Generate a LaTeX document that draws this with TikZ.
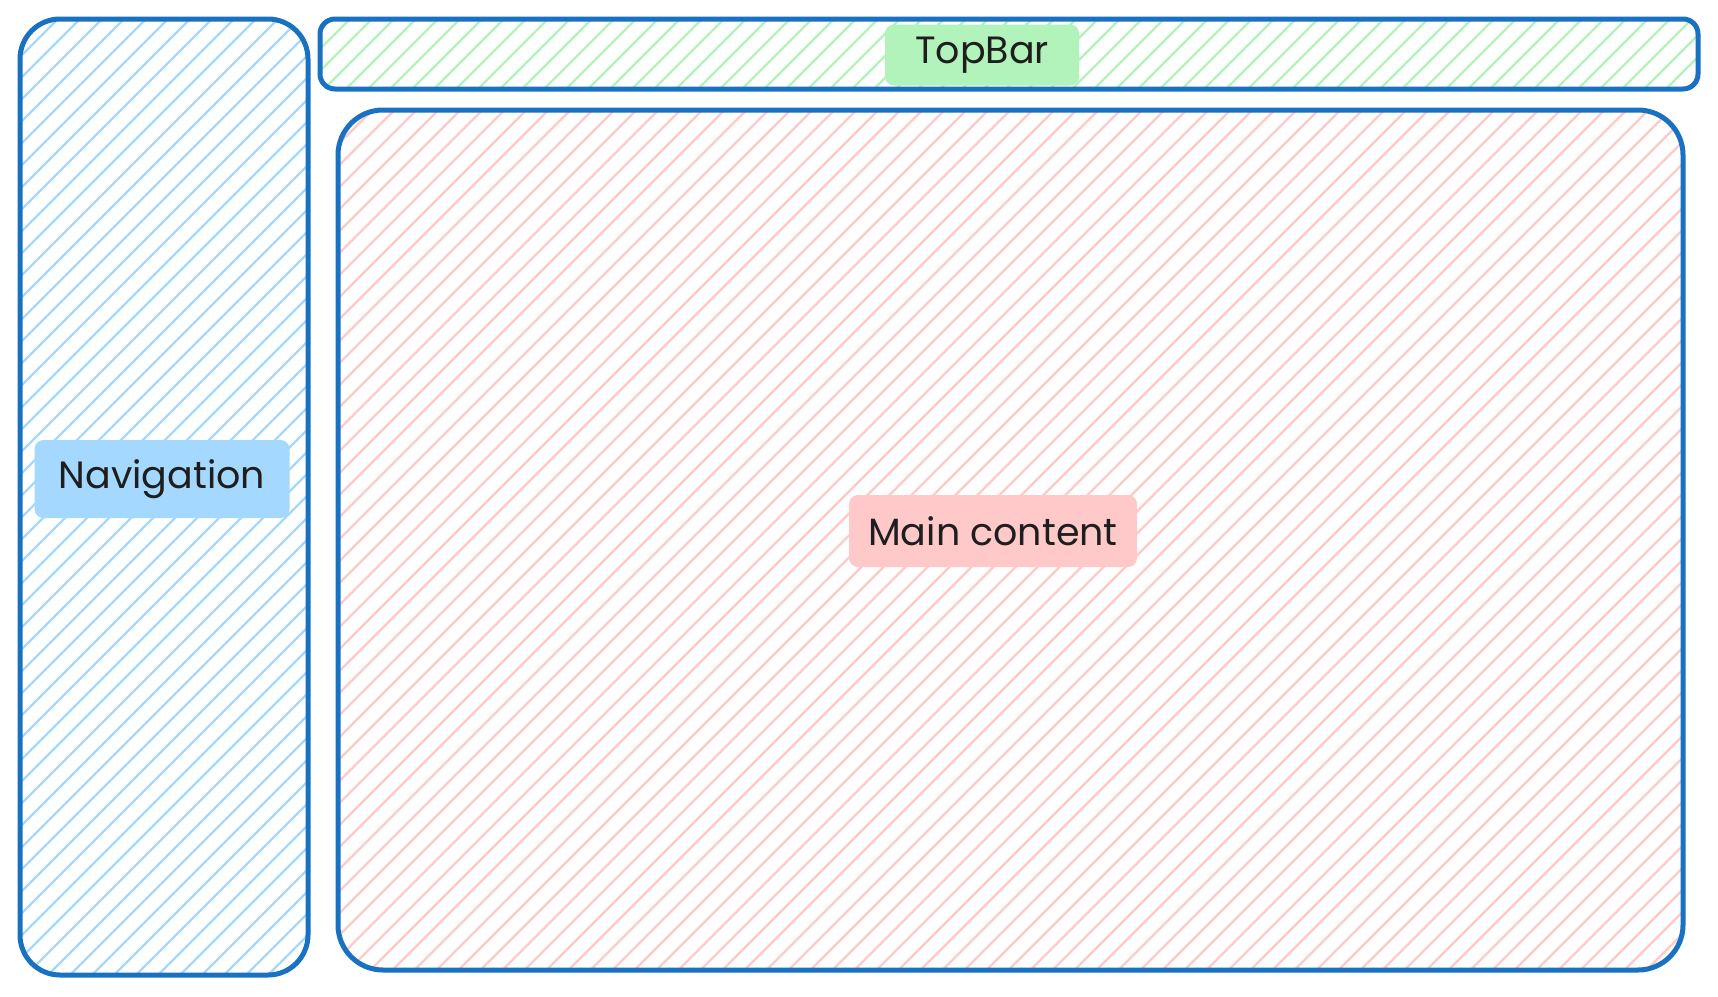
\documentclass[tikz,border=0pt]{standalone}
\usepackage{fontspec}
\setmainfont{Poppins}
\definecolor{strokeblue}{HTML}{1971C2}
\definecolor{navfill}{HTML}{A5D8FF}
\definecolor{topfill}{HTML}{B2F2BB}
\definecolor{mainfill}{HTML}{FFC9C9}
\definecolor{ink}{HTML}{1E1E1E}
\begin{document}
\begin{tikzpicture}[x=1pt,y=-1pt,
  hatchline/.style={line width=2.4pt, draw=#1},
  frame/.style 2 args={draw=strokeblue, line width=5pt, rounded corners=#1, inner sep=0pt, outer sep=0pt,
    path picture={\foreach \i in {-2618,-2596,...,1000} \draw[hatchline=#2] (\i,1000) -- ++(2000,-2000);}},
  tag/.style={fill=#1, rounded corners=9pt, text=ink, font=\fontsize{38}{44}\selectfont, inner sep=0pt}]
\fill[white, use as bounding box] (0,0) rectangle (1718,996);

\node[frame={40pt}{navfill}, minimum width=288pt, minimum height=956pt] (nav) at (164,497) {};
\node[frame={15pt}{topfill}, minimum width=1378pt, minimum height=70pt] (top) at (1009,54) {};
\node[frame={45pt}{mainfill}, minimum width=1345pt, minimum height=860pt] (main) at (1010.5,540) {};

\node[tag=navfill, minimum width=255pt, minimum height=78pt] (navlabel) at (162,479) {Navigation};
\node[tag=topfill, minimum width=194pt, minimum height=61pt] (toplabel) at (982,55) {TopBar};
\node[tag=mainfill, minimum width=288pt, minimum height=72pt] (mainlabel) at (993,531) {Main content};
\end{tikzpicture}
\end{document}
